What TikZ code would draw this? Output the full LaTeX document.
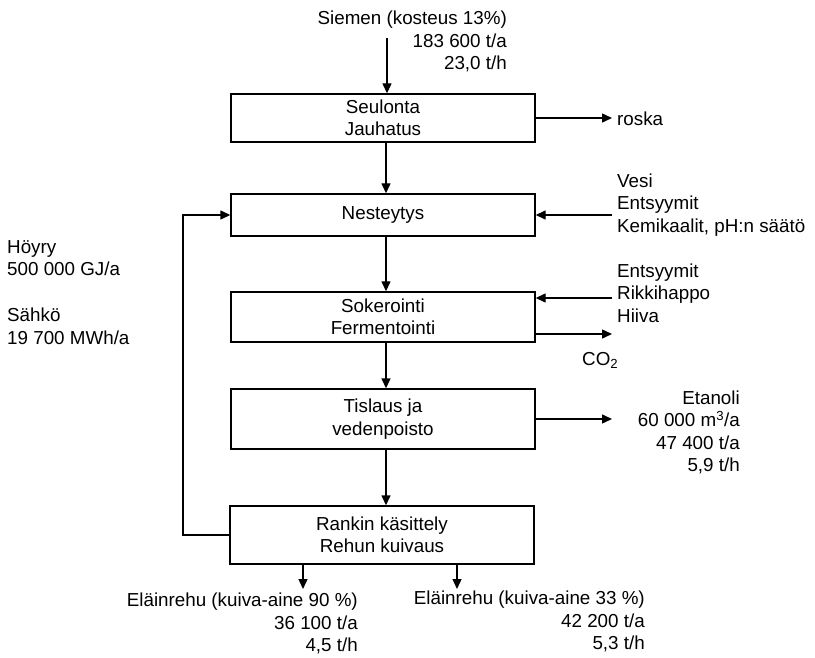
\documentclass[tikz,border=0pt]{standalone}
\usepackage{fontspec}
\setmainfont{Liberation Sans}
\usetikzlibrary{arrows.meta}
\newcommand{\fsz}{\fontsize{18.8pt}{22.5pt}\selectfont}
\tikzset{
  every node/.style={font=\fsz, inner sep=0pt},
  procbox/.style={draw, line width=1.4pt, minimum width=304pt, align=center},
  lbl/.style={align=left},
  lblr/.style={align=right},
  arr/.style={line width=1.4pt, -{Triangle[length=10pt,width=9pt]}},
  ln/.style={line width=1.4pt}
}
\begin{document}
\begin{tikzpicture}[x=1pt,y=-1pt]
\useasboundingbox (0,0) rectangle (815,658);
% process boxes
\node[procbox, minimum height=48pt] (b1) at (383,118) {Seulonta\\Jauhatus};
\node[procbox, minimum height=42pt] (b2) at (383,215) {Nesteytys};
\node[procbox, minimum height=50pt] (b3) at (383,317) {Sokerointi\\Fermentointi};
\node[procbox, minimum height=60pt] (b4) at (383,419) {Tislaus ja\\vedenpoisto};
\node[procbox, minimum height=58pt] (b5) at (382,535) {Rankin käsittely\\Rehun kuivaus};
% labels
\node[lblr, anchor=north east] (siemen) at (507,11) {Siemen (kosteus 13\%)\\183 600 t/a\\23,0 t/h};
\node[anchor=base west] (roska) at (617,126) {roska};
\node[lbl, anchor=north west] (vesi) at (617,173.5) {Vesi\\Entsyymit\\Kemikaalit, pH:n säätö};
\node[lbl, anchor=north west] (entsy) at (617,263.5) {Entsyymit\\Rikkihappo\\Hiiva};
\node[anchor=base west] (co2) at (582,365) {CO\textsubscript{2}};
\node[lblr, anchor=north east] (etanoli) at (740,390.5) {Etanoli\\60 000 m\textsuperscript{3}/a\\47 400 t/a\\5,9 t/h};
\node[lbl, anchor=north west] (hoyry) at (7,240) {Höyry\\500 000 GJ/a};
\node[lbl, anchor=north west] (sahko) at (7,308) {Sähkö\\19 700 MWh/a};
\node[lblr, anchor=north east] (rehu1) at (358,593) {Eläinrehu (kuiva-aine 90 \%)\\36 100 t/a\\4,5 t/h};
\node[lblr, anchor=north east] (rehu2) at (645,591) {Eläinrehu (kuiva-aine 33 \%)\\42 200 t/a\\5,3 t/h};
% coordinates
\coordinate (ax) at (386,0);
\coordinate (top) at (387,38);
\coordinate (fb) at (183,0);
\coordinate (rx) at (612,0);
\coordinate (i3) at (612,298);
\coordinate (o3) at (612,334);
\coordinate (d1) at (303,589);
\coordinate (d2) at (457,589);
% main flow
\draw[arr] (top) -- (top |- b1.north);
\draw[arr] (b1.south -| ax) -- (b2.north -| ax);
\draw[arr] (b2.south -| ax) -- (b3.north -| ax);
\draw[arr] (b3.south -| ax) -- (b4.north -| ax);
\draw[arr] (b4.south -| ax) -- (b5.north -| ax);
% side flows
\draw[arr] (b1.east) -- (b1.east -| rx);
\draw[arr] (b2.east -| rx) -- (b2.east);
\draw[arr] (i3) -- (i3 -| b3.east);
\draw[arr] (o3 -| b3.east) -- (o3);
\draw[arr] (b4.east) -- (b4.east -| rx);
% feedback
\draw[arr] (b5.west) -- (b5.west -| fb) -- (b2.west -| fb) -- (b2.west);
% outputs
\draw[arr] (d1 |- b5.south) -- (d1);
\draw[arr] (d2 |- b5.south) -- (d2);
\end{tikzpicture}
\end{document}
